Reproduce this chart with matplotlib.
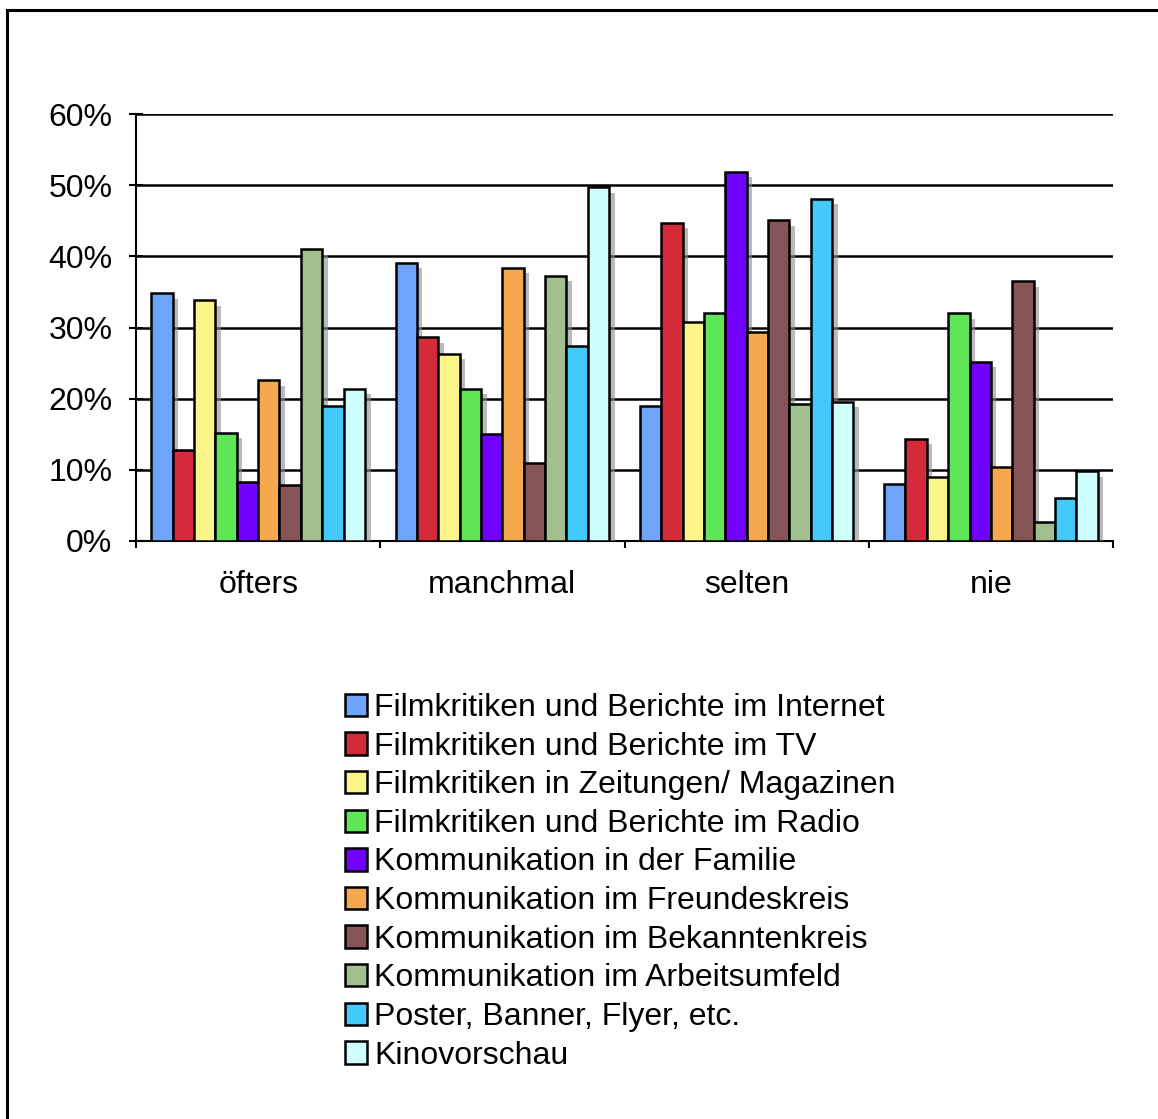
import matplotlib.pyplot as plt
import matplotlib.patheffects as pe
from matplotlib.lines import Line2D
from matplotlib.ticker import FixedLocator
import numpy as np

plt.rcParams['font.family'] = ['Liberation Sans', 'DejaVu Sans']

# ===== Data =====
categories = ['öfters', 'manchmal', 'selten', 'nie']
series_names = [
    'Filmkritiken und Berichte im Internet',
    'Filmkritiken und Berichte im TV',
    'Filmkritiken in Zeitungen/ Magazinen',
    'Filmkritiken und Berichte im Radio',
    'Kommunikation in der Familie',
    'Kommunikation im Freundeskreis',
    'Kommunikation im Bekanntenkreis',
    'Kommunikation im Arbeitsumfeld',
    'Poster, Banner, Flyer, etc.',
    'Kinovorschau',
]
internet = [34.8, 39.1, 18.9, 8.0]
tv = [12.8, 28.6, 44.7, 14.4]
zeitungen = [33.8, 26.3, 30.8, 9.0]
radio = [15.2, 21.4, 32.0, 32.0]
familie = [8.3, 15.1, 51.9, 25.2]
freunde = [22.6, 38.4, 29.3, 10.4]
bekannte = [7.9, 11.0, 45.1, 36.5]
arbeit = [41.0, 37.3, 19.2, 2.7]
poster = [18.9, 27.4, 48.1, 6.1]
kinovorschau = [21.4, 49.7, 19.6, 9.8]
series_values = [internet, tv, zeitungen, radio, familie,
                 freunde, bekannte, arbeit, poster, kinovorschau]
y_ticks = [0, 10, 20, 30, 40, 50, 60]

colors = ['#6FA4FB', '#D42A3A', '#FBF58A', '#5EE656', '#7000FF',
          '#F5A84E', '#845456', '#A3BF8F', '#44C9FC', '#CFFFFD']

# ===== Figure =====
fig = plt.figure(figsize=(11.58, 11.19), dpi=100)
ax = fig.add_axes([136 / 1158, 1 - 541 / 1119, 977 / 1158, 427 / 1119])

x = np.arange(len(categories))
n = len(series_values)
bar_w = 0.0875
shadow = [pe.SimplePatchShadow(offset=(4, -4), shadow_rgbFace='0.55', alpha=0.6),
          pe.Normal()]

for i, (vals, name, col) in enumerate(zip(series_values, series_names, colors)):
    offs = (i - (n - 1) / 2) * bar_w
    bars = ax.bar(x + offs, vals, width=bar_w, color=col, edgecolor='black',
                  linewidth=1.8, label=name, zorder=3)
    for b in bars:
        b.set_path_effects(shadow)

ax.set_xlim(-0.5, len(categories) - 0.5)
ax.set_ylim(0, 60)
ax.set_yticks(y_ticks)
ax.set_yticklabels([f'{v}%' for v in y_ticks])
ax.yaxis.grid(True, color='black', linewidth=1.8, zorder=1)
ax.set_axisbelow(True)

ax.set_xticks(x)
ax.set_xticklabels(categories)
ax.xaxis.set_minor_locator(FixedLocator(np.arange(-0.5, len(categories), 1.0)))
ax.tick_params(axis='x', which='major', length=0, pad=21, labelsize=23)
ax.tick_params(axis='x', which='minor', length=5, width=1.5, direction='out')
ax.tick_params(axis='y', which='major', length=10, width=1.5, direction='inout',
               pad=12, labelsize=23)

for s in ['top', 'right']:
    ax.spines[s].set_visible(False)
for s in ['left', 'bottom']:
    ax.spines[s].set_linewidth(1.5)

# ===== Legend =====
leg = fig.legend(loc='upper left', bbox_to_anchor=(345 / 1158, 1 - 693 / 1119),
                 frameon=False, fontsize=23, handlelength=0.7, handleheight=0.7,
                 handletextpad=0.22, labelspacing=0.27, borderpad=0, borderaxespad=0)
for h in leg.legend_handles:
    h.set_path_effects([])
    h.set_linewidth(1.8)

# ===== Outer frame (left and top edges only) =====
fx = 7.5 / 1158
fy = 1 - 10 / 1119
fig.add_artist(Line2D([fx, fx], [0, fy], transform=fig.transFigure,
                      color='black', linewidth=2.2))
fig.add_artist(Line2D([fx, 1], [fy, fy], transform=fig.transFigure,
                      color='black', linewidth=2.2))

plt.savefig('out.png', dpi=100, facecolor='white')
